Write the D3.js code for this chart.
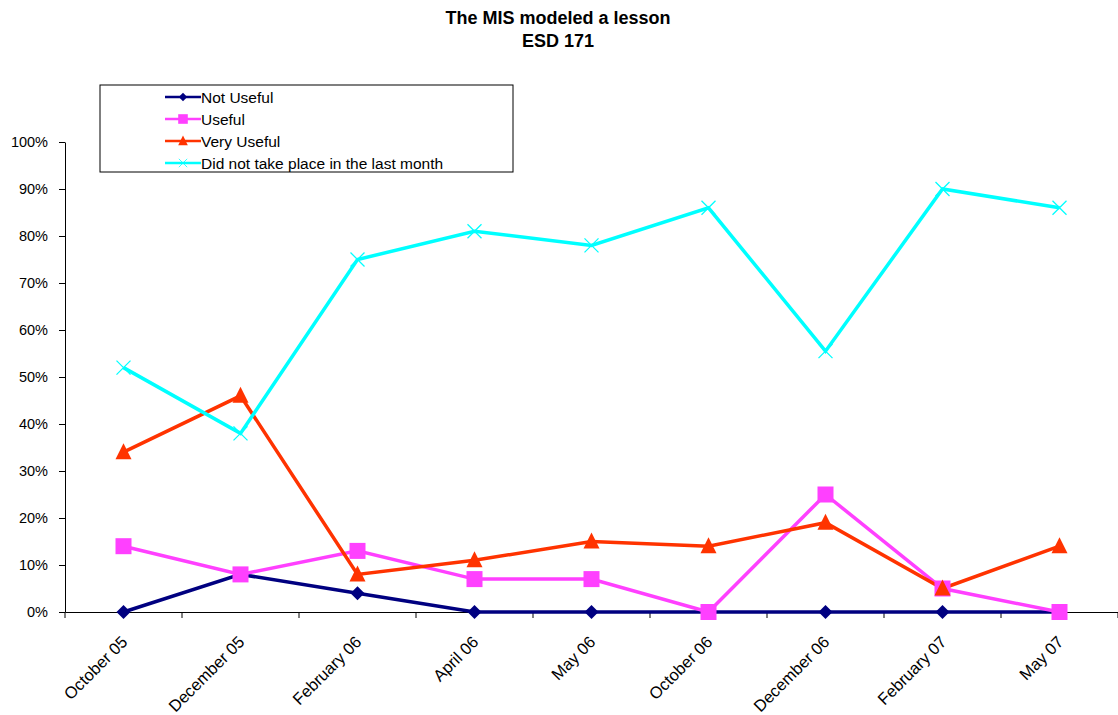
<!DOCTYPE html>
<html>
<head>
<meta charset="utf-8">
<title>The MIS modeled a lesson</title>
<style>
  body { margin: 0; background: #fff; }
  svg text { font-family: Arial, "Liberation Sans", sans-serif; fill: #000; }
</style>
</head>
<body>
<div id="chart"></div>
<script src="https://d3js.org/d3.v7.min.js"></script>
<script>
// chart data
const months = ["October 05", "December 05", "February 06", "April 06", "May 06",
                "October 06", "December 06", "February 07", "May 07"];
const notUseful   = [0, 8, 4, 0, 0, 0, 0, 0, 0];
const useful      = [14, 8, 13, 7, 7, 0, 25, 5, 0];
const veryUseful  = [34, 46, 8, 11, 15, 14, 19, 5, 14];
const didNotTake  = [52, 38, 75, 81, 78, 86, 55.5, 90, 86];
const yTicks = [0, 10, 20, 30, 40, 50, 60, 70, 80, 90, 100];

const series = [
  { name: "Not Useful", values: notUseful, color: "#000080", marker: "diamond" },
  { name: "Useful", values: useful, color: "#ff40ff", marker: "square" },
  { name: "Very Useful", values: veryUseful, color: "#ff3300", marker: "triangle" },
  { name: "Did not take place in the last month", values: didNotTake, color: "#00ffff", marker: "cross" }
];

const width = 1118, height = 715;
const svg = d3.select("#chart").append("svg")
  .attr("width", width)
  .attr("height", height);

// title
svg.append("text").attr("x", 558).attr("y", 24)
  .attr("text-anchor", "middle").attr("font-size", 18).attr("font-weight", "bold")
  .text("The MIS modeled a lesson");
svg.append("text").attr("x", 558).attr("y", 47)
  .attr("text-anchor", "middle").attr("font-size", 18).attr("font-weight", "bold")
  .text("ESD 171");

const x = d3.scaleBand().domain(months).range([65, 1118]);
const y = d3.scaleLinear().domain([0, 100]).range([612, 142]);
const cx = d => x(d) + x.bandwidth() / 2;

// y axis
const yAxis = svg.append("g")
  .attr("transform", "translate(65,0)")
  .call(d3.axisLeft(y).tickValues(yTicks).tickFormat(d => d + "%").tickSize(6).tickSizeOuter(0));
yAxis.select(".domain").attr("stroke", "#000");
yAxis.selectAll(".tick line").attr("stroke", "#000");
yAxis.selectAll(".tick text").attr("font-size", 14.5).attr("x", -17)
  .attr("font-family", "Arial, 'Liberation Sans', sans-serif").attr("fill", "#000");

// x axis
const xAxis = svg.append("g")
  .attr("transform", "translate(0,612)")
  .call(d3.axisBottom(x).tickSize(0).tickSizeOuter(0));
xAxis.select(".domain").attr("stroke", "#000");
xAxis.selectAll(".tick text")
  .attr("font-size", 16.5)
  .attr("font-family", "Arial, 'Liberation Sans', sans-serif").attr("fill", "#000")
  .attr("text-anchor", "end")
  .attr("dy", null)
  .attr("y", 0)
  .attr("transform", "translate(5,31) rotate(-45)");

// x tick marks at band edges
const edges = months.map(m => x(m)).concat([x(months[months.length - 1]) + x.bandwidth()]);
svg.append("g").selectAll("line")
  .data(edges)
  .join("line")
  .attr("x1", d => d).attr("x2", d => d)
  .attr("y1", 612).attr("y2", 618)
  .attr("stroke", "#000");

// marker drawing
function drawMarker(g, type, color) {
  if (type === "diamond") {
    g.append("path").attr("d", "M0,-7L7,0L0,7L-7,0Z").attr("fill", color);
  } else if (type === "square") {
    g.append("rect").attr("x", -8).attr("y", -8).attr("width", 16).attr("height", 16).attr("fill", color);
  } else if (type === "triangle") {
    g.append("path").attr("d", "M0,-9L8,7L-8,7Z").attr("fill", color);
  } else {
    g.append("path").attr("d", "M-7,-7L7,7M-7,7L7,-7").attr("stroke", color).attr("stroke-width", 1.3).attr("fill", "none");
  }
}

const line = d3.line()
  .x((d, i) => cx(months[i]))
  .y(d => y(d));

series.forEach(s => {
  svg.append("path")
    .datum(s.values)
    .attr("fill", "none")
    .attr("stroke", s.color)
    .attr("stroke-width", 3.5)
    .attr("stroke-linejoin", "miter")
    .attr("d", line);
});

series.forEach(s => {
  s.values.forEach((v, i) => {
    const g = svg.append("g").attr("transform", `translate(${cx(months[i])},${y(v)})`);
    drawMarker(g, s.marker, s.color);
  });
});

// legend
const legend = svg.append("g");
legend.append("rect")
  .attr("x", 100).attr("y", 85).attr("width", 413).attr("height", 87)
  .attr("fill", "#fff").attr("stroke", "#000").attr("stroke-width", 1);
series.forEach((s, i) => {
  const ly = 97 + i * 22;
  legend.append("line")
    .attr("x1", 165).attr("x2", 201).attr("y1", ly).attr("y2", ly)
    .attr("stroke", s.color).attr("stroke-width", 2.5);
  const g = legend.append("g").attr("transform", `translate(183,${ly}) scale(0.6)`);
  drawMarker(g, s.marker, s.color);
  legend.append("text").attr("x", 201).attr("y", ly + 5.5)
    .attr("font-size", 15.5).text(s.name);
});
</script>
</body>
</html>
